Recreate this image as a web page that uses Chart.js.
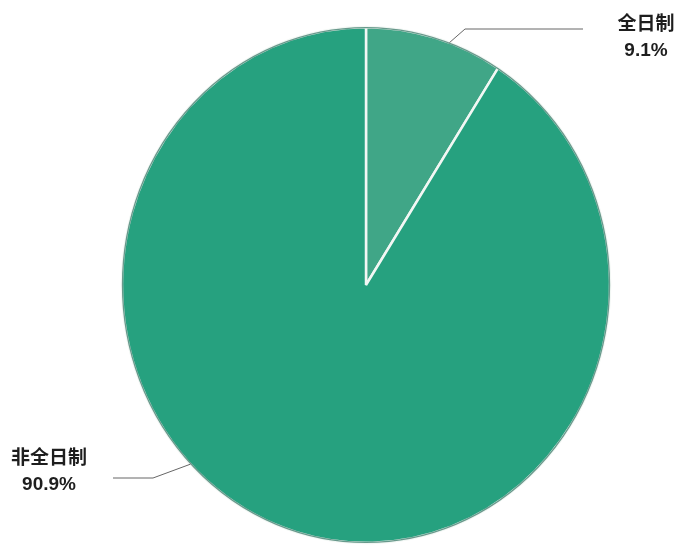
<!DOCTYPE html>
<html>
<head>
<meta charset="utf-8">
<script src="https://cdn.jsdelivr.net/npm/chart.js@4/dist/chart.umd.min.js"></script>
<style>
  html, body { margin: 0; padding: 0; background: #ffffff; overflow: hidden; }
  #wrap { position: relative; width: 679px; height: 548px; }
</style>
</head>
<body>
<div id="wrap"><canvas id="c" width="679" height="548"></canvas></div>
<script>
// Study mode share
const categories = ['全日制', '非全日制'];
const shares = [9.1, 90.9];
const sliceColors = ['#40a687', '#26a17f'];

// Callout placement for each slice: angle on the rim (degrees clockwise from top),
// elbow point and end of the leader, and where the text block sits.
const callouts = [
  { angle: 20,  elbow: [465, 29],  end: [583, 29],  text: [646, 23], align: 'center' },
  { angle: 226, elbow: [153, 478], end: [113, 478], text: [49, 457], align: 'center' }
];

const Y_STRETCH = 1.057;

// Draws the pie slightly taller than wide, as it appears in print.
const stretchPlugin = {
  id: 'stretch',
  beforeDatasetsDraw(chart) {
    const arc = chart.getDatasetMeta(0).data[0];
    const ctx = chart.ctx;
    ctx.save();
    ctx.translate(arc.x, arc.y);
    ctx.scale(1, Y_STRETCH);
    ctx.translate(-arc.x, -arc.y);
  },
  afterDatasetsDraw(chart) {
    const ctx = chart.ctx;
    const arc = chart.getDatasetMeta(0).data[0];
    // thin darker rim around the pie
    ctx.beginPath();
    ctx.arc(arc.x, arc.y, arc.outerRadius - 0.5, 0, Math.PI * 2);
    ctx.strokeStyle = 'rgba(12,90,70,0.6)';
    ctx.lineWidth = 1.3;
    ctx.stroke();
    ctx.restore();
  }
};

const calloutPlugin = {
  id: 'callouts',
  afterDraw(chart) {
    const ctx = chart.ctx;
    const meta = chart.getDatasetMeta(0);
    meta.data.forEach((arc, i) => {
      const c = callouts[i];
      const a = c.angle * Math.PI / 180;
      const sx = arc.x + arc.outerRadius * Math.sin(a);
      const sy = arc.y - arc.outerRadius * Y_STRETCH * Math.cos(a);
      ctx.save();
      ctx.beginPath();
      ctx.moveTo(sx, sy);
      ctx.lineTo(c.elbow[0], c.elbow[1]);
      ctx.lineTo(c.end[0], c.end[1]);
      ctx.strokeStyle = '#666666';
      ctx.lineWidth = 1;
      ctx.stroke();

      ctx.fillStyle = '#1e1e1e';
      ctx.textAlign = c.align;
      ctx.textBaseline = 'middle';
      ctx.font = 'bold 19px "Noto Sans CJK SC", "Noto Sans", sans-serif';
      ctx.fillText(categories[i], c.text[0], c.text[1]);
      ctx.font = 'bold 19px "Liberation Sans", Arial, sans-serif';
      ctx.fillText(shares[i].toFixed(1) + '%', c.text[0], c.text[1] + 28);
      ctx.restore();
    });
  }
};

new Chart(document.getElementById('c'), {
  type: 'pie',
  data: {
    labels: categories,
    datasets: [{
      data: shares,
      backgroundColor: sliceColors,
      borderColor: '#f2f7f4',
      borderWidth: 2.5
    }]
  },
  options: {
    responsive: false,
    animation: false,
    events: [],
    radius: 244,
    layout: { padding: { left: 53, right: 0, top: 22, bottom: 0 } },
    plugins: {
      legend: { display: false },
      tooltip: { enabled: false }
    }
  },
  plugins: [stretchPlugin, calloutPlugin]
});
</script>
</body>
</html>
